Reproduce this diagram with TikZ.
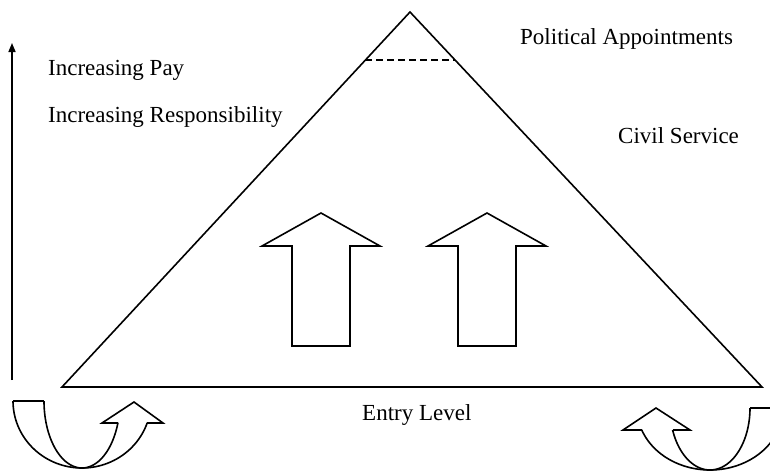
\documentclass[tikz,border=0pt]{standalone}
\usepackage{fontspec}
\setmainfont{Liberation Serif}
\usetikzlibrary{arrows.meta,calc}
\begin{document}
\begin{tikzpicture}[x=1pt,y=-1pt,line join=miter,
  outl/.style={draw=black,line width=1.6pt},
  lbl/.style={anchor=base west,inner sep=0pt,font=\fontsize{23}{27}\selectfont}]
\useasboundingbox (0,0) rectangle (770,472);
\begin{scope}
\clip (0,0) rectangle (770,472);
% pyramid
\coordinate (apex) at (410,12);
\coordinate (bl) at (62,387);
\coordinate (br) at (762,387);
\draw[outl] (apex) -- (bl) -- (br) -- cycle;
\coordinate (dl) at ($(apex)!0.128!(bl)$);
\coordinate (dr) at ($(apex)!0.128!(br)$);
\draw[outl,line width=1.3pt,dash pattern=on 7pt off 4pt] (dl) -- (dr);
% vertical arrow
\coordinate (vbot) at (12,380);
\coordinate (vtop) at (12,43);
\draw[line width=1.6pt,-{Triangle[length=9pt,width=7pt]}] (vbot) -- (vtop);
% block arrows
\draw[outl] (292,346) -- (292,246) -- (262,246) -- (321,213) -- (380,246) -- (350,246) -- (350,346) -- cycle;
\draw[outl] (458,346) -- (458,246) -- (428,246) -- (487,213) -- (546,246) -- (516,246) -- (516,346) -- cycle;
% bottom-left curved arrow
\draw[outl] (13,401) -- (44,401);
\draw[outl] plot[domain=18.9:180,samples=60,smooth] ({82+69*cos(\x)},{401+67*sin(\x)});
\draw[outl] plot[domain=18.9:180,samples=60,smooth] ({82+38*cos(\x)},{401+67*sin(\x)});
\draw[outl] (118,423) -- (102,423) -- (134,402) -- (163,423) -- (147,423);
% bottom-right curved arrow
\draw[outl] (750,408) -- (783,408);
\draw[outl] plot[domain=0:159.2,samples=60,smooth] ({710+40*cos(\x)},{408+62*sin(\x)});
\draw[outl] plot[domain=0:159.2,samples=60,smooth] ({710+73*cos(\x)},{408+62*sin(\x)});
\draw[outl] (642,430) -- (623,430) -- (656,408) -- (690,430) -- (673,430);
\end{scope}
% labels
\node[lbl] (pay) at (48,75) {Increasing Pay};
\node[lbl] (resp) at (48,122) {Increasing Responsibility};
\node[lbl] (pol) at (520,44) {Political Appointments};
\node[lbl] (civ) at (618,143) {Civil Service};
\node[lbl] (entry) at (362,420) {Entry Level};
\end{tikzpicture}
\end{document}
